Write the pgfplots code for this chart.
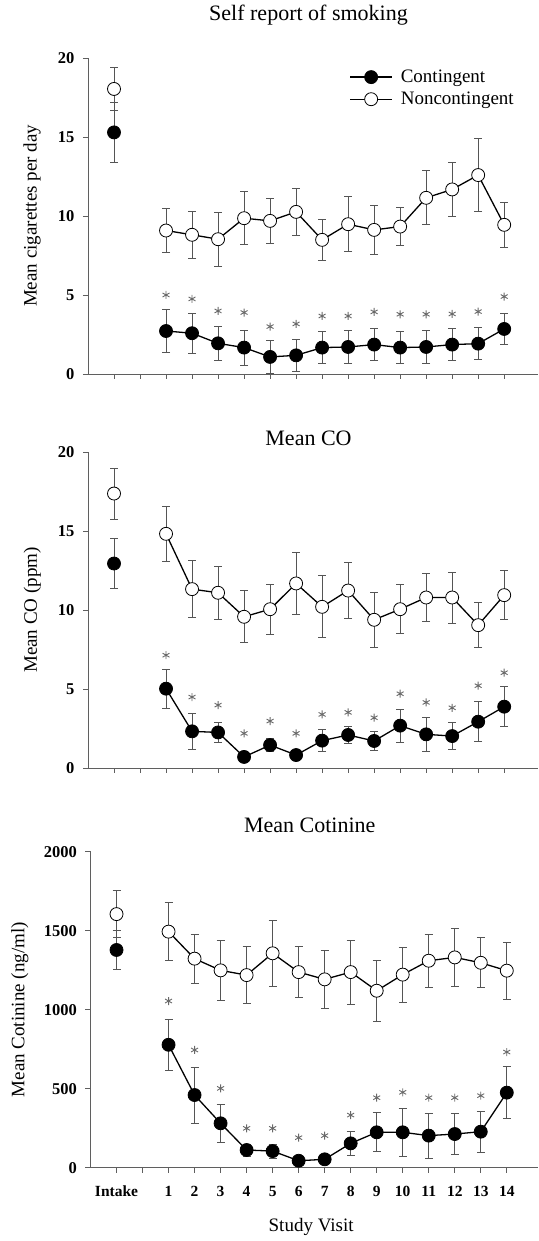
\documentclass[border=0pt]{standalone}
\usepackage{pgfplots}
\pgfplotsset{compat=1.18}
\usepackage{pgfplotstable}
\usepackage{fontspec}
\setmainfont{Liberation Serif}

% ---------- data ----------
\pgfplotstableread{
x y e
-1 15.29 1.92
}\cigCi
\pgfplotstableread{
x y e
-1 18.04 1.36
}\cigNi
\pgfplotstableread{
x y e
1 2.72 1.37
2 2.58 1.27
3 1.94 1.05
4 1.67 1.12
5 1.08 1.03
6 1.18 1.00
7 1.67 1.00
8 1.71 1.03
9 1.86 1.03
10 1.67 1.00
11 1.71 1.03
12 1.86 1.03
13 1.92 1.02
14 2.85 1.00
}\cigC
\pgfplotstableread{
x y e
1 9.08 1.39
2 8.81 1.48
3 8.53 1.71
4 9.86 1.69
5 9.69 1.40
6 10.26 1.46
7 8.49 1.31
8 9.48 1.73
9 9.12 1.52
10 9.33 1.20
11 11.15 1.71
12 11.68 1.73
13 12.59 2.30
14 9.44 1.44
}\cigN
\pgfplotstableread{
x y
1 5.00
2 4.75
3 3.99
4 3.89
5 3.00
6 3.17
7 3.67
8 3.67
9 3.93
10 3.78
11 3.78
12 3.80
13 3.95
14 4.90
}\cigS

\pgfplotstableread{
x y e
-1 12.94 1.58
}\coCi
\pgfplotstableread{
x y e
-1 17.37 1.62
}\coNi
\pgfplotstableread{
x y e
1 5.02 1.22
2 2.32 1.16
3 2.25 0.66
4 0.70 0.20
5 1.45 0.43
6 0.82 0.20
7 1.73 0.71
8 2.09 0.53
9 1.71 0.61
10 2.68 1.05
11 2.13 1.05
12 2.02 0.84
13 2.93 1.26
14 3.88 1.26
}\coC
\pgfplotstableread{
x y e
1 14.82 1.73
2 11.32 1.79
3 11.09 1.69
4 9.57 1.64
5 10.05 1.58
6 11.68 1.94
7 10.20 1.96
8 11.23 1.77
9 9.38 1.75
10 10.05 1.54
11 10.79 1.52
12 10.79 1.62
13 9.04 1.43
14 10.94 1.56
}\coN
\pgfplotstableread{
x y
1 7.14
2 4.49
3 3.98
4 2.19
5 2.97
6 2.19
7 3.39
8 3.52
9 3.18
10 4.70
11 4.15
12 3.81
13 5.21
14 6.03
}\coS

\pgfplotstableread{
x y e
-1 1378 122
}\cotCi
\pgfplotstableread{
x y e
-1 1605 148
}\cotNi
\pgfplotstableread{
x y e
1 778 160
2 460 177
3 281 118
4 112 38
5 105 45
6 44 20
7 53 20
8 154 76
9 224 124
10 224 152
11 203 141
12 213 131
13 228 131
14 475 164
}\cotC
\pgfplotstableread{
x y e
1 1494 183
2 1323 156
3 1249 190
4 1219 181
5 1357 207
6 1238 162
7 1192 184
8 1238 203
9 1120 194
10 1222 173
11 1310 169
12 1331 186
13 1297 158
14 1247 179
}\cotN
\pgfplotstableread{
x y
1 1055
2 745
3 502
4 249
5 249
6 190
7 203
8 333
9 443
10 477
11 443
12 443
13 456
14 732
}\cotS

\definecolor{axgray}{RGB}{95,95,95}
\definecolor{ebgray}{RGB}{85,85,85}
\definecolor{stargray}{RGB}{105,105,105}

\pgfplotsset{
  panel/.style={
    scale only axis, anchor=south west,
    axis x line*=bottom, axis y line*=left,
    xmin=-2, xmax=15.3,
    xtick={-1,0,1,2,3,4,5,6,7,8,9,10,11,12,13,14},
    tick align=outside, major tick length=5pt,
    every tick/.style={axgray, line width=0.8pt},
    axis line style={axgray, line width=0.8pt},
    /pgf/number format/assume math mode=true,
    /pgf/number format/1000 sep={},
    yticklabel style={font=\fontsize{16.5}{16.5}\selectfont\bfseries, xshift=-5pt},
    xticklabel style={font=\fontsize{15.5}{15.5}\selectfont\bfseries, yshift=-10pt},
    label style={font=\fontsize{19}{19}\selectfont},
    title style={font=\fontsize{22}{22}\selectfont, anchor=center, yshift=-6pt},
    clip=false,
  },
  ebars/.style={
    error bars/y dir=both, error bars/y explicit,
    error bars/error bar style={ebgray, line width=0.8pt},
    error bars/error mark options={rotate=90, mark size=4pt, ebgray, line width=0.8pt}},
  cont/.style={black, line width=1.3pt, mark=*, mark size=6.5pt,
    mark options={fill=black, draw=black, line width=0.8pt}, ebars},
  noncont/.style={black, line width=1.3pt, mark=*, mark size=6.5pt,
    mark options={fill=white, draw=black, line width=0.8pt}, ebars},
  stars/.style={only marks, mark=asterisk, mark size=4pt,
    mark options={stargray, line width=0.9pt}},
}

\begin{document}
\begin{tikzpicture}
\useasboundingbox (0,0) rectangle (538pt,1241pt);

% ---------- panel 1 ----------
\begin{axis}[panel, at={(88pt,867pt)}, width=450pt, height=316pt,
  ymin=0, ymax=20, ytick={0,5,10,15,20},
  xticklabels={},
  title={Self report of smoking},
  title style={at={(axis description cs:0.49,1.136)}},
  ylabel={Mean cigarettes per day},
  ylabel style={at={(axis description cs:-0.124,0.5)}, anchor=center},
  legend style={at={(axis description cs:0.574,0.975)}, anchor=north west,
    draw=none, fill=none, font=\fontsize{19}{19}\selectfont,
    row sep=4pt, cells={anchor=west},
    /tikz/every odd column/.append style={column sep=6pt}},
  legend image code/.code={\draw[mark repeat=2, mark phase=2]
    plot coordinates {(0pt,0pt) (21pt,0pt) (42pt,0pt)};},
]
\addplot[cont] table[x=x, y=y, y error=e]{\cigC};
\addlegendentry{Contingent}
\addplot[noncont] table[x=x, y=y, y error=e]{\cigN};
\addlegendentry{Noncontingent}
\addplot[cont, forget plot] table[x=x, y=y, y error=e]{\cigCi};
\addplot[noncont, forget plot] table[x=x, y=y, y error=e]{\cigNi};
\addplot[stars, forget plot] table[x=x, y=y]{\cigS};
\end{axis}

% ---------- panel 2 ----------
\begin{axis}[panel, at={(88pt,473pt)}, width=450pt, height=316pt,
  ymin=0, ymax=20, ytick={0,5,10,15,20},
  xticklabels={},
  title={Mean CO},
  title style={at={(axis description cs:0.49,1.044)}},
  ylabel={Mean CO (ppm)},
  ylabel style={at={(axis description cs:-0.124,0.5)}, anchor=center},
]
\addplot[noncont] table[x=x, y=y, y error=e]{\coN};
\addplot[cont] table[x=x, y=y, y error=e]{\coC};
\addplot[noncont] table[x=x, y=y, y error=e]{\coNi};
\addplot[cont] table[x=x, y=y, y error=e]{\coCi};
\addplot[stars] table[x=x, y=y]{\coS};
\end{axis}

% ---------- panel 3 ----------
\begin{axis}[panel, at={(90.5pt,73.3pt)}, width=447.5pt, height=316pt,
  xmax=15.2,
  ymin=0, ymax=2000, ytick={0,500,1000,1500,2000},
  xticklabels={Intake,{},1,2,3,4,5,6,7,8,9,10,11,12,13,14},
  title={Mean Cotinine},
  title style={at={(axis description cs:0.49,1.084)}},
  ylabel={Mean Cotinine (ng/ml)},
  ylabel style={at={(axis description cs:-0.158,0.5)}, anchor=center},
  xlabel={Study Visit},
  xlabel style={at={(axis description cs:0.493,-0.187)}, anchor=center},
]
\addplot[noncont] table[x=x, y=y, y error=e]{\cotN};
\addplot[cont] table[x=x, y=y, y error=e]{\cotC};
\addplot[noncont] table[x=x, y=y, y error=e]{\cotNi};
\addplot[cont] table[x=x, y=y, y error=e]{\cotCi};
\addplot[stars] table[x=x, y=y]{\cotS};
\end{axis}
\end{tikzpicture}
\end{document}
